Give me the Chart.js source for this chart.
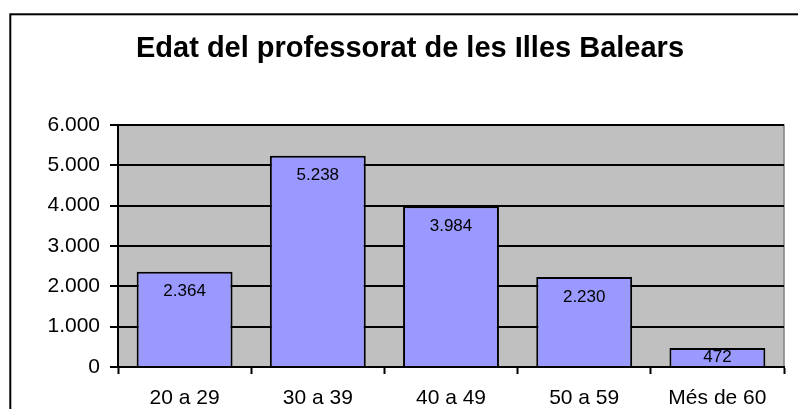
<!DOCTYPE html>
<html>
<head>
<meta charset="utf-8">
<script src="https://cdn.jsdelivr.net/npm/chart.js@4"></script>
<style>
  html, body { margin: 0; padding: 0; background: #fff; }
  canvas { display: block; }
</style>
</head>
<body>
<canvas id="edatChart" width="798" height="409"></canvas>
<script>
// Dades del gràfic
const title = 'Edat del professorat de les Illes Balears';
const categories = ['20 a 29', '30 a 39', '40 a 49', '50 a 59', 'Més de 60'];
const professors = [2364, 5238, 3984, 2230, 472];
const yTicks = [0, 1000, 2000, 3000, 4000, 5000, 6000];

// 1234 -> "1.234"
function fmt(v) {
    return String(v).replace(/\B(?=(\d{3})+(?!\d))/g, '.');
}

const FONT = '"Liberation Sans", Arial, sans-serif';

// Fons gris, vora exterior, títol i etiquetes de valor
const decor = {
    id: 'decor',
    beforeDraw(chart) {
        const ctx = chart.ctx;
        const a = chart.chartArea;
        ctx.save();
        ctx.fillStyle = '#ffffff';
        ctx.fillRect(0, 0, chart.width, chart.height);
        ctx.strokeStyle = '#000';
        ctx.lineWidth = 2;
        ctx.strokeRect(10.3, 14.3, chart.width + 20, chart.height + 20);
        ctx.fillStyle = '#c0c0c0';
        ctx.fillRect(a.left, a.top, a.right - a.left, a.bottom - a.top);
        ctx.strokeStyle = '#808080';
        ctx.lineWidth = 1.5;
        ctx.beginPath();
        ctx.moveTo(a.left, a.top);
        ctx.lineTo(a.right, a.top);
        ctx.lineTo(a.right, a.bottom);
        ctx.stroke();
        ctx.font = 'bold 29px ' + FONT;
        ctx.fillStyle = '#000';
        ctx.textAlign = 'center';
        ctx.textBaseline = 'alphabetic';
        ctx.fillText(title, 410, 57);
        ctx.restore();
    },
    afterDatasetsDraw(chart) {
        const ctx = chart.ctx;
        const meta = chart.getDatasetMeta(0);
        ctx.save();
        ctx.font = '17px ' + FONT;
        ctx.fillStyle = '#000';
        ctx.textAlign = 'center';
        ctx.textBaseline = 'middle';
        meta.data.forEach(function(bar, i) {
            const y = Math.min(bar.y + 19.5, (bar.y + bar.base) / 2);
            ctx.fillText(fmt(professors[i]), bar.x, y + 0.5);
        });
        ctx.restore();
    }
};

const ctx = document.getElementById('edatChart').getContext('2d');
new Chart(ctx, {
    type: 'bar',
    data: {
        labels: categories,
        datasets: [{
            data: professors,
            backgroundColor: '#9999ff',
            borderColor: '#000',
            borderWidth: 2,
            barPercentage: 0.72,
            categoryPercentage: 1
        }]
    },
    options: {
        responsive: false,
        animation: false,
        layout: { padding: { left: 0, right: 14, top: 125, bottom: 0 } },
        plugins: {
            legend: { display: false },
            tooltip: { enabled: false },
            title: { display: false }
        },
        scales: {
            x: {
                grid: {
                    offset: true,
                    drawOnChartArea: false,
                    drawTicks: true,
                    tickLength: 7,
                    tickColor: '#000',
                    tickWidth: 2
                },
                border: { color: '#000', width: 2 },
                ticks: {
                    color: '#000',
                    font: { family: FONT, size: 21 },
                    padding: 12,
                    maxRotation: 0
                },
                afterFit(scale) { scale.height = 42; }
            },
            y: {
                min: 0,
                max: 6000,
                afterBuildTicks(scale) {
                    scale.ticks = yTicks.map(function(v) { return { value: v }; });
                },
                grid: {
                    color: '#000',
                    lineWidth: 2,
                    drawTicks: true,
                    tickLength: 8,
                    tickColor: '#000',
                    tickWidth: 2
                },
                border: { color: '#000', width: 2 },
                ticks: {
                    color: '#000',
                    font: { family: FONT, size: 21 },
                    padding: 10,
                    callback: function(v) { return fmt(v); }
                },
                afterFit(scale) { scale.width = 118; }
            }
        }
    },
    plugins: [decor]
});
</script>
</body>
</html>
